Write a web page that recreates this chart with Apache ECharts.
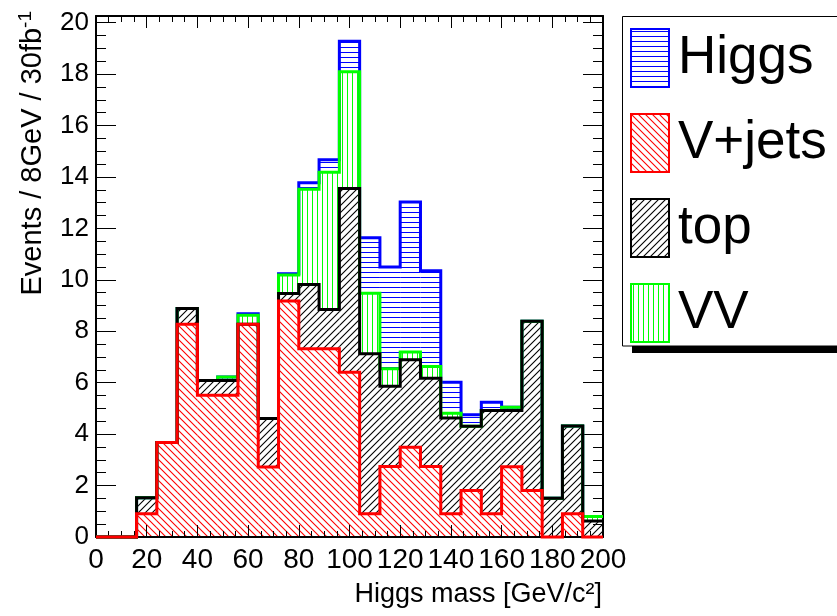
<!DOCTYPE html>
<html>
<head>
<meta charset="utf-8">
<script src="https://cdn.jsdelivr.net/npm/echarts@6/dist/echarts.min.js"></script>
<style>
  html, body { margin: 0; padding: 0; background: #fff; }
  #chart { width: 837px; height: 616px; }
</style>
</head>
<body>
<div id="chart"></div>
<script>
// Histogram bin edges (8 GeV bins from 0 to 200)
const binEdges = [0, 8, 16, 24, 32, 40, 48, 56, 64, 72, 80, 88, 96, 104, 112, 120, 128, 136, 144, 152, 160, 168, 176, 184, 192, 200];

// Events per bin for each process (stacked bottom to top: V+jets, top, VV, Higgs)
const vjetsYield = [0, 0, 0.90, 3.67, 8.27, 5.51, 5.51, 8.27, 2.72, 9.18, 7.32, 7.32, 6.41, 0.90, 2.74, 3.49, 2.74, 0.90, 1.81, 0.90, 2.73, 1.81, 0, 0.90, 0];
const topYield   = [0, 0, 0.63, 0, 0.62, 0.58, 0.58, 0, 1.89, 0.29, 2.50, 1.53, 7.14, 6.23, 3.12, 3.40, 3.43, 3.73, 2.50, 4.02, 2.19, 6.58, 1.51, 3.42, 0.62];
const vvYield    = [0, 0, 0, 0, 0, 0, 0.13, 0.35, 0, 0.72, 3.70, 5.33, 4.54, 2.35, 0.68, 0.30, 0.46, 0.18, 0, 0, 0.13, 0, 0, 0, 0.18];
const higgsYield = [0, 0, 0, 0, 0, 0, 0, 0.06, 0, 0.05, 0.26, 0.49, 1.19, 2.16, 3.96, 5.84, 3.72, 1.21, 0.44, 0.32, 0, 0, 0, 0, 0];

// Axis tick labels
const xTickLabels = [0, 20, 40, 60, 80, 100, 120, 140, 160, 180, 200];
const yTickLabels = [0, 2, 4, 6, 8, 10, 12, 14, 16, 18, 20];

const FONT = 'Liberation Sans, Arial, Helvetica, sans-serif';
const Y_MAX = 20.26;

// Hatched fill patterns drawn on small tiles
function hatch(kind, color) {
  const s = (kind === 'h' || kind === 'v') ? 5 : 7;
  const c = document.createElement('canvas');
  c.width = s; c.height = s;
  const g = c.getContext('2d');
  g.fillStyle = color; g.strokeStyle = color; g.lineWidth = 1.1;
  if (kind === 'h') {
    g.fillRect(0, 2, s, 1);
  } else if (kind === 'v') {
    g.fillRect(2, 0, 1, s);
  } else {
    g.beginPath();
    if (kind === 'fwd') {
      g.moveTo(0, s); g.lineTo(s, 0);
      g.moveTo(-1, 1); g.lineTo(1, -1);
      g.moveTo(s - 1, s + 1); g.lineTo(s + 1, s - 1);
    } else {
      g.moveTo(0, 0); g.lineTo(s, s);
      g.moveTo(s - 1, -1); g.lineTo(s + 1, 1);
      g.moveTo(-1, s - 1); g.lineTo(1, s + 1);
    }
    g.stroke();
  }
  return { image: c, repeat: 'repeat' };
}

// Stack layers, bottom first; later outlines are drawn underneath earlier ones
const layers = [
  { name: 'V+jets', values: vjetsYield, color: '#ff0000', fill: hatch('back', '#ff0000') },
  { name: 'top',    values: topYield,   color: '#000000', fill: hatch('fwd', '#000000') },
  { name: 'VV',     values: vvYield,    color: '#00ff00', fill: hatch('v', '#00ff00') },
  { name: 'Higgs',  values: higgsYield, color: '#0000ff', fill: hatch('h', '#0000ff') }
];

const nBins = binEdges.length - 1;
let running = new Array(nBins).fill(0);
const series = [];
layers.forEach((layer, k) => {
  const base = running.slice();
  const cum = base.map((b, i) => b + layer.values[i]);
  running = cum;

  const rows = [];
  for (let i = 0; i < nBins; i++) rows.push([binEdges[i], binEdges[i + 1], base[i], cum[i]]);

  // hatched band of this process
  series.push({
    type: 'custom',
    name: layer.name,
    xAxisIndex: 0,
    yAxisIndex: 0,
    z: 2,
    silent: true,
    itemStyle: { color: layer.fill, borderColor: layer.color },
    encode: { x: [0, 1], y: [2, 3] },
    data: rows,
    renderItem: function (params, api) {
      if (api.value(3) <= api.value(2)) return null;
      const a = api.coord([api.value(0), api.value(3)]);
      const b = api.coord([api.value(1), api.value(2)]);
      return {
        type: 'rect',
        shape: { x: a[0], y: a[1], width: b[0] - a[0], height: b[1] - a[1] },
        style: { fill: layer.fill }
      };
    }
  });

  // step outline of the cumulative histogram
  const steps = binEdges.map((x, i) => [x, cum[Math.min(i, nBins - 1)]]);
  series.push({
    type: 'line',
    name: layer.name + ' outline',
    xAxisIndex: 0,
    yAxisIndex: 0,
    step: 'end',
    symbol: 'none',
    clip: false,
    silent: true,
    z: 14 - k,
    lineStyle: { color: layer.color, width: 3, join: 'miter' },
    data: steps
  });
});

const axisLineStyle = { color: '#000', width: 2 };
function xAxisDef(pos, labels) {
  return {
    type: 'value', position: pos, min: 0, max: 200, interval: 20, z: 10,
    axisLine: { show: true, onZero: false, lineStyle: axisLineStyle },
    axisTick: { show: true, inside: true, length: 12, lineStyle: { color: '#000', width: 1 } },
    minorTick: { show: true, splitNumber: 4, length: 6, lineStyle: { color: '#000', width: 1 } },
    axisLabel: {
      show: labels, color: '#000', fontSize: 28, fontFamily: FONT, margin: 9,
      formatter: v => (xTickLabels.indexOf(v) >= 0 ? String(v) : '')
    },
    splitLine: { show: false }
  };
}
function yAxisDef(pos, interval, tickLen, labels, line) {
  return {
    type: 'value', position: pos, min: 0, max: Y_MAX, interval: interval, z: 10,
    axisLine: { show: line, onZero: false, lineStyle: axisLineStyle },
    axisTick: { show: true, inside: true, length: tickLen, lineStyle: { color: '#000', width: 1 } },
    axisLabel: {
      show: labels, color: '#000', fontSize: 26, fontFamily: FONT, margin: 7,
      formatter: v => (yTickLabels.indexOf(v) >= 0 ? String(v) : '')
    },
    splitLine: { show: false }
  };
}

const legendNames = ['Higgs', 'V+jets', 'top', 'VV'];
const legendData = legendNames.map(n => {
  const l = layers.find(x => x.name === n);
  return { name: n, itemStyle: { color: l.fill, borderColor: l.color, borderWidth: 2 } };
});

const chart = echarts.init(document.getElementById('chart'), null, { renderer: 'canvas' });
chart.setOption({
  animation: false,
  backgroundColor: '#fff',
  textStyle: { fontFamily: FONT },
  grid: { left: 96, top: 16, right: 234, bottom: 79, containLabel: false },
  xAxis: [xAxisDef('bottom', true), xAxisDef('top', false)],
  yAxis: [
    yAxisDef('left', 2, 20, true, true),
    yAxisDef('left', 0.5, 10, false, false),
    yAxisDef('right', 2, 20, false, true),
    yAxisDef('right', 0.5, 10, false, false)
  ],
  legend: {
    data: legendData,
    orient: 'vertical',
    left: 622,
    top: 16,
    padding: [12, 40, 12, 8],
    itemGap: 25,
    itemWidth: 38,
    itemHeight: 58,
    icon: 'rect',
    selectedMode: false,
    z: 6,
    textStyle: { fontSize: 53, lineHeight: 58, color: '#000', fontFamily: FONT, padding: [0, 0, 0, 4] }
  },
  graphic: [
    // legend frame with its drop shadow
    { type: 'rect', z: 1, silent: true, shape: { x: 632, y: 23, width: 300, height: 330 }, style: { fill: '#000' } },
    { type: 'rect', z: 2, silent: true, shape: { x: 622.5, y: 16.5, width: 300, height: 329.5 }, style: { fill: '#fff', stroke: '#000', lineWidth: 1 } },
    {
      type: 'text', x: 602, y: 595, silent: true,
      style: { text: 'Higgs mass [GeV/c²]', align: 'right', verticalAlign: 'middle', fontSize: 27, fontFamily: FONT, fill: '#000' }
    },
    {
      type: 'text', x: 33, y: 11, rotation: Math.PI / 2, silent: true,
      style: {
        text: '{m|Events / 8GeV / 30fb}{s|-1}', align: 'right', verticalAlign: 'middle',
        rich: {
          m: { fontSize: 29, lineHeight: 34, fontFamily: FONT, fill: '#000' },
          s: { fontSize: 19, lineHeight: 19, verticalAlign: 'top', fontFamily: FONT, fill: '#000' }
        }
      }
    }
  ],
  series: series
});
</script>
</body>
</html>
